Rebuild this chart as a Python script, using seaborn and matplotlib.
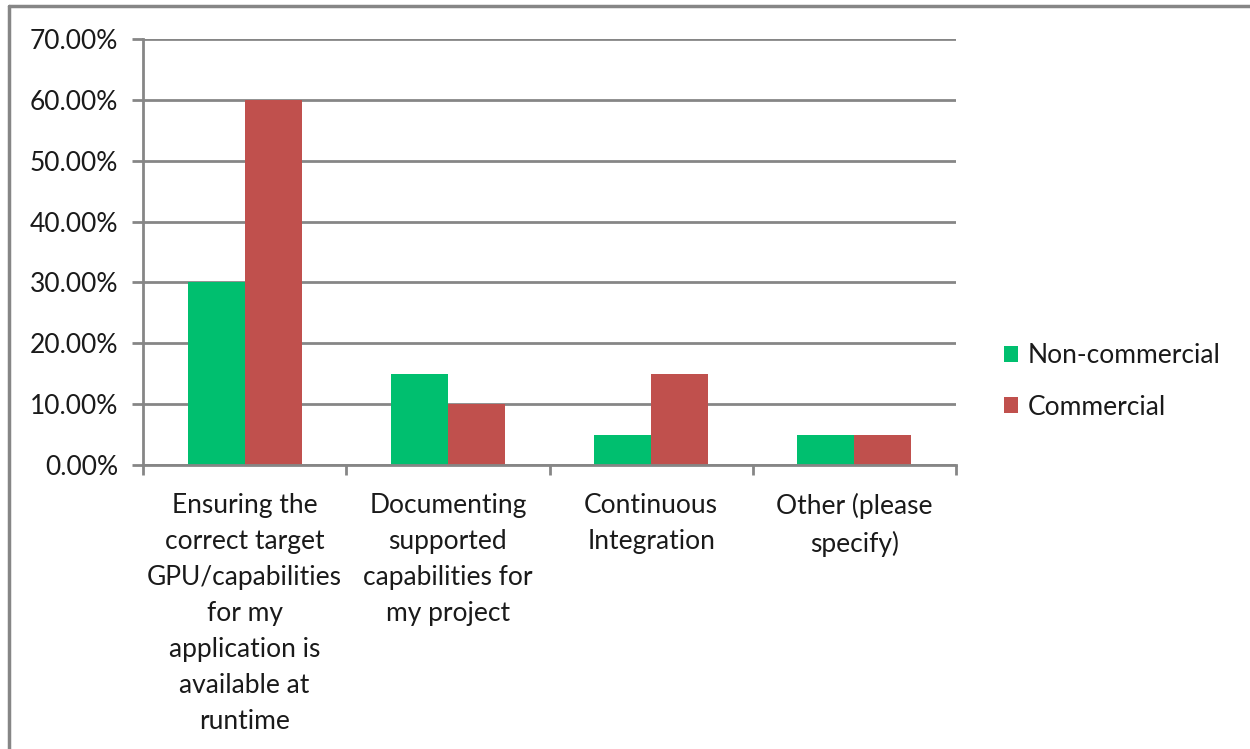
import seaborn as sns
import matplotlib.pyplot as plt
import matplotlib.ticker as mticker
from matplotlib.lines import Line2D
import pandas as pd

# data
categories = [
    "Ensuring the\ncorrect target\nGPU/capabilities\nfor my\napplication is\navailable at\nruntime",
    "Documenting\nsupported\ncapabilities for\nmy project",
    "Continuous\nIntegration",
    "Other (please\nspecify)",
]
non_commercial = [0.30, 0.15, 0.05, 0.05]
commercial = [0.60, 0.10, 0.15, 0.05]
series = ["Non-commercial", "Commercial"]
colors = ["#00BF6F", "#C0504D"]

df = pd.DataFrame({
    "category": categories * 2,
    "value": non_commercial + commercial,
    "group": [series[0]] * 4 + [series[1]] * 4,
})

sns.set_style("white")
plt.rcParams["font.family"] = ["Lato", "DejaVu Sans"]
fs = 19
txt_c = "#1a1a1a"

fig = plt.figure(figsize=(12.5, 7.49), dpi=100)
ax = fig.add_axes([143 / 1250, 284 / 749, 813 / 1250, 426 / 749])

sns.barplot(data=df, x="category", y="value", hue="group", palette=colors,
            width=0.56, saturation=1, ax=ax, linewidth=0)

grid_c = "#868686"
ax.set_ylim(0, 0.70)
ax.set_xlim(-0.5, 3.5)
ax.yaxis.set_major_locator(mticker.MultipleLocator(0.10))
ax.yaxis.set_major_formatter(mticker.FuncFormatter(lambda v, p: f"{v * 100:.2f}%"))
ax.grid(axis="y", color=grid_c, linewidth=2)
ax.set_axisbelow(True)
for s in ["top", "right"]:
    ax.spines[s].set_visible(False)
for s in ["left", "bottom"]:
    ax.spines[s].set_color(grid_c)
    ax.spines[s].set_linewidth(2)

# category labels between boundary ticks
ax.set_xticks([-0.5, 0.5, 1.5, 2.5, 3.5])
ax.set_xticklabels([])
ax.set_xticks(range(4), minor=True)
ax.set_xticklabels(categories, minor=True, fontsize=fs, color=txt_c,
                   linespacing=1.55, va="top")
ax.tick_params(axis="x", which="minor", length=0, pad=20)
ax.tick_params(axis="x", which="major", length=7, width=2, color=grid_c,
               direction="out", bottom=True)
ax.tick_params(axis="y", length=8, width=2, color=grid_c, direction="out",
               left=True, labelsize=fs, labelcolor=txt_c, pad=10)
ax.set_xlabel("")
ax.set_ylabel("")

handles, labels = ax.get_legend_handles_labels()
leg = ax.legend(handles, labels, loc="center left",
                bbox_to_anchor=(980 / 1250, (749 - 381.5) / 749),
                bbox_transform=fig.transFigure, frameon=False, fontsize=fs,
                handlelength=0.55, handleheight=0.55, handletextpad=0.35,
                labelspacing=1.0)
for t in leg.get_texts():
    t.set_color(txt_c)

# outer chart border (only top and left visible in the picture)
fig.add_artist(Line2D([9 / 1250, 1.0], [1 - 6 / 749, 1 - 6 / 749],
                      transform=fig.transFigure, color=grid_c, linewidth=2.5))
fig.add_artist(Line2D([9 / 1250, 9 / 1250], [0.0, 1 - 6 / 749],
                      transform=fig.transFigure, color=grid_c, linewidth=2.5))

fig.savefig("out.png", dpi=100)
